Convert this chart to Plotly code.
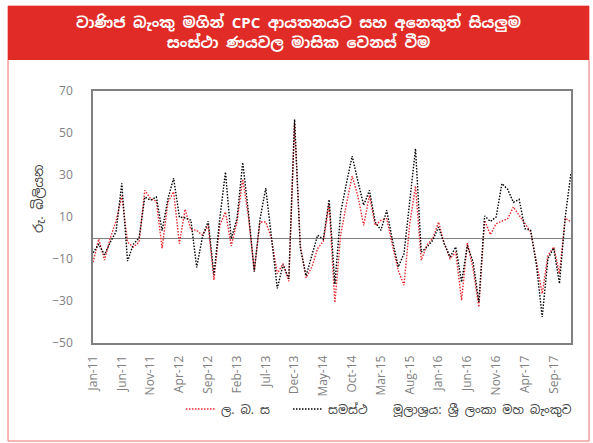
import plotly.graph_objects as go
import pandas as pd

months = pd.date_range("2011-01-01", "2017-12-01", freq="MS").strftime("%b-%y").tolist()

lcb = [-11.5, -0.5, -10.5, 0, 8, 20, -2, -4.3, -2, 22.7, 18.7, 17.5, -4.8, 17, 22, -2.7, 13.7, 4, 3.7, 1.3,
       6, -20, 6, 12.4, -3.8, 7.6, 28, 10, -15.4, 7.6, 7.6, -0.3, -17, -12.2, -20.6, 54.4, -3.5, -19, -13.8, -5,
       -1.6, 16.3, -30.8, 1.5, 16, 29.5, 20, 6, 20.3, 6, 8.4, 9.2, -3.5, -15.4, -22.5, 6.8, 24.8, -10.6, -3.2, -0.3,
       7.6, -2.7, -9.8, -6.7, -29.7, -2.2, -14.6, -32.9, 8.4, 1.6, 6.8, 7.9, 9.2, 14.8, 10.8, 6.8, 2.9, -11.4, -26.5, -8.3,
       -4.3, -17, 9.5, 7.6]

total = [-7, -3, -8, -2, 3, 26, -11, -3, 0, 19.5, 18, 19.5, 3.5, 18.5, 28.5, 10, 9.5, 8.5, -14, 0.5,
         8, -17.5, 9, 31.4, -0.3, 9.2, 36, 12, -16, 9, 23.8, -1, -24, -12.7, -19.4, 56.5, -5, -18, -8.3, 1.3,
         -0.6, 18.3, -22, 12, 26, 39, 27, 15.6, 22.7, 7.6, 3.7, 13.2, -1.1, -13.8, -7.5, 17, 42.5, -6.7, -4.3, -1.1,
         5.2, -2.7, -9, -4.3, -21, -3.5, -11.4, -30.5, 10.5, 7.9, 10, 25.9, 23.2, 17, 18.4, 4.4, 3.7, -13, -37.6, -9.8,
         -4.8, -21.7, 10, 31.1]

tick_labels = months[::5]

series_names = ["ල. බ. ස", "සමස්ථ"]
title_text = "වාණිජ බැංකු මගින් CPC ආයතනයට සහ අනෙකුත් සියලුම<br>සංස්ථා ණයවල මාසික වෙනස් වීම"
y_title = "රු. බිලියන"
source_text = "මූලාශ්‍රය: ශ්‍රී ලංකා මහ බැංකුව"

SIN = "Noto Sans Sinhala, Iskoola Pota, Noto Sans, DejaVu Sans, sans-serif"
GRAY = "#808080"
DOT = "1.5px,1.5px"

fig = go.Figure()
fig.add_trace(go.Scatter(x=months, y=lcb, mode="lines", name=series_names[0],
                         line=dict(color="#e8262b", width=1.4, dash=DOT)))
fig.add_trace(go.Scatter(x=months, y=total, mode="lines", name=series_names[1],
                         line=dict(color="#000000", width=1.4, dash=DOT)))

W, H = 593, 443
L, R, T, B = 93, 22, 91, 100
pw, ph = W - L - R, H - T - B

def px(x):
    return (x - L) / pw

def py(y):
    return (H - B - y) / ph

fig.update_layout(
    width=W, height=H,
    margin=dict(l=L, r=R, t=T, b=B, autoexpand=False),
    paper_bgcolor="white", plot_bgcolor="white",
    showlegend=True,
    legend=dict(orientation="h", x=px(181), y=py(409), xanchor="left", yanchor="middle",
                font=dict(family=SIN, size=12, color="#404040"),
                entrywidth=62, entrywidthmode="pixels", bgcolor="rgba(0,0,0,0)",
                itemwidth=30),
    xaxis=dict(type="category", range=[0, len(months) - 1], tickmode="array",
               tickvals=tick_labels, ticktext=tick_labels, tickangle=-90,
               tickfont=dict(family="Open Sans", size=12, color=GRAY),
               showgrid=False, showline=True, linecolor=GRAY, linewidth=1.5, mirror=True,
               ticks="", ticklabelstandoff=6),
    yaxis=dict(range=[-50, 70], tick0=-50, dtick=20,
               tickfont=dict(family="Open Sans", size=12, color=GRAY),
               showgrid=False, showline=True, linecolor=GRAY, linewidth=1.5, mirror=True,
               zeroline=True, zerolinecolor=GRAY, zerolinewidth=1, ticks="",
               ticklabelstandoff=16),
    shapes=[
        dict(type="rect", xref="paper", yref="paper", x0=px(8), x1=px(589), y0=py(441), y1=py(6),
             line=dict(color="#ef6f6f", width=1), fillcolor="rgba(0,0,0,0)", layer="below"),
        dict(type="rect", xref="paper", yref="paper", x0=px(8), x1=px(589), y0=py(60), y1=py(6),
             line=dict(width=0), fillcolor="#e02b27", layer="below"),
    ],
    annotations=[
        dict(text=title_text, xref="paper", yref="paper", x=px(298), y=py(33),
             xanchor="center", yanchor="middle", showarrow=False,
             font=dict(family=SIN, size=15, color="white", weight="bold")),
        dict(text=y_title, xref="paper", yref="paper", x=px(38), y=py(199),
             xanchor="center", yanchor="middle", showarrow=False, textangle=-90,
             font=dict(family=SIN, size=13, color="#404040")),
        dict(text=source_text, xref="paper", yref="paper", x=px(574), y=py(410),
             xanchor="right", yanchor="middle", showarrow=False,
             font=dict(family=SIN, size=12, color="#404040")),
    ],
)

fig.write_html("out.html", config={"displayModeBar": False},
               post_script="document.body.style.margin='0';document.body.style.padding='0';")
